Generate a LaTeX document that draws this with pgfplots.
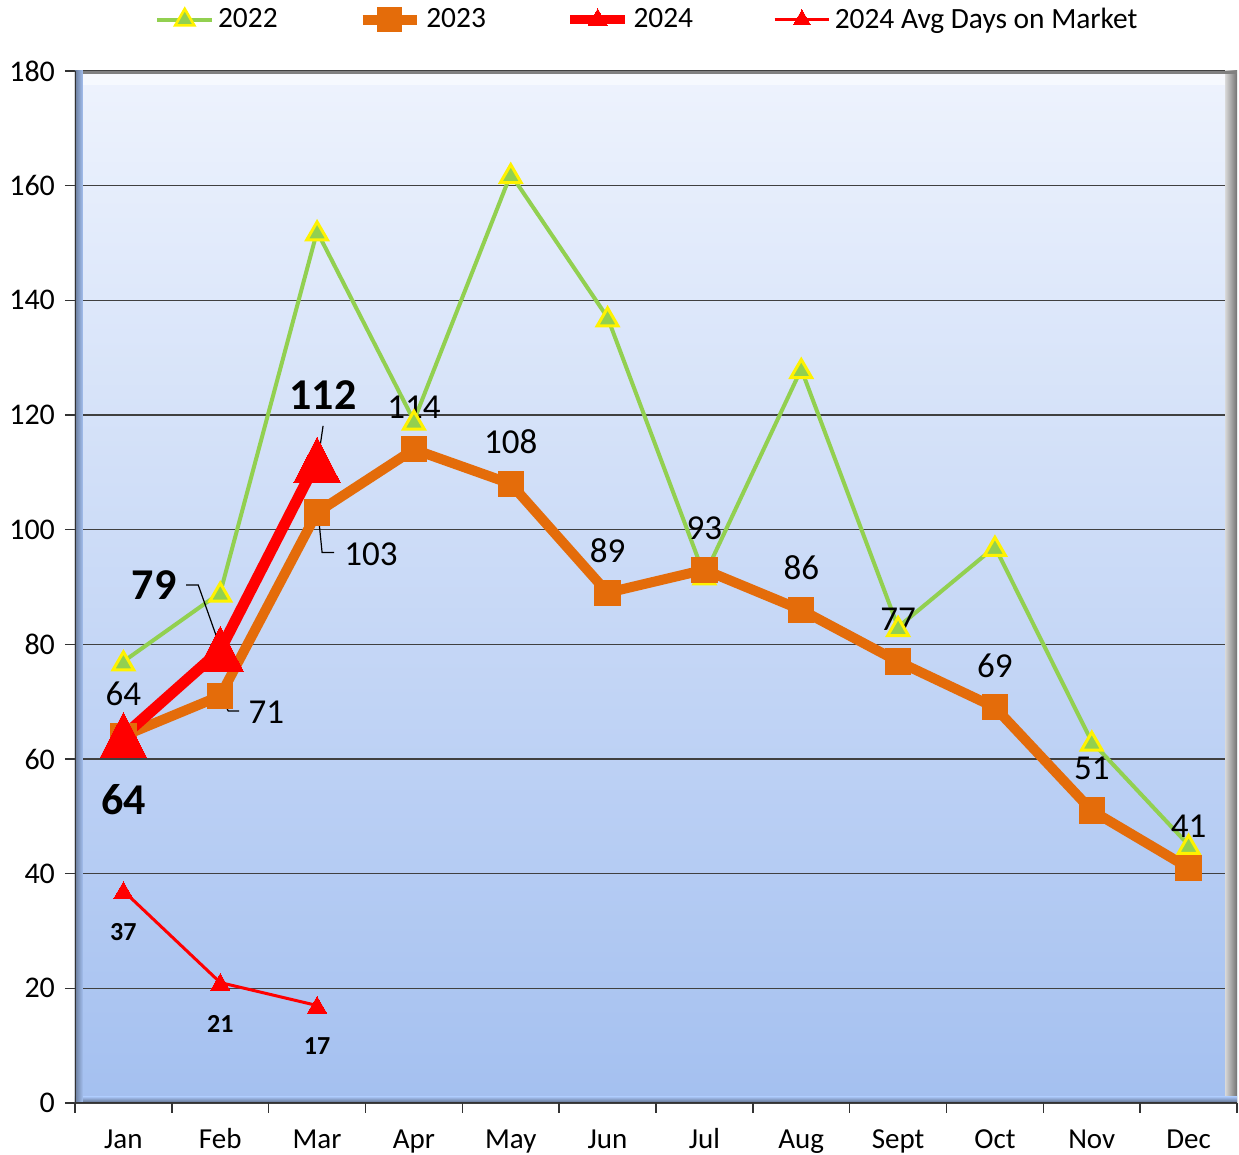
\documentclass[border=0pt]{standalone}
\usepackage{pgfplots}
\pgfplotsset{compat=1.18}
\usepackage{fontspec}
\setmainfont{Carlito}
\usetikzlibrary{plotmarks}
\definecolor{g22}{HTML}{92D050}
\definecolor{o23}{HTML}{E46C0A}
\definecolor{r24}{HTML}{FF0000}
\definecolor{bgtop}{HTML}{EEF3FD}
\definecolor{bgbot}{HTML}{A4C0F0}
\begin{document}
\begin{tikzpicture}
\path[use as bounding box] (-37.5pt,-26pt) rectangle (582pt,551.5pt);
\begin{axis}[
  scale only axis, width=581pt, height=516pt,
  xmin=-0.5, xmax=11.5, ymin=0, ymax=180,
  axis background/.style={top color=bgtop, bottom color=bgbot},
  axis line style={draw=none},
  xtick={-0.5,0.5,...,11.5}, xticklabel=\empty,
  extra x ticks={0,1,2,3,4,5,6,7,8,9,10,11},
  extra x tick labels={Jan,Feb,Mar,Apr,May,Jun,Jul,Aug,Sept,Oct,Nov,Dec},
  extra x tick style={major tick length=0pt, xticklabel style={yshift=-12pt, text height=10.5pt, text depth=0pt, inner sep=0pt, font=\fontsize{14.5}{17}\selectfont}},
  ytick={0,20,...,180},
  xtick pos=bottom, ytick pos=left,
  tick align=outside, major tick length=5pt,
  tick style={black!80, line width=0.7pt},
  ymajorgrids, grid style={draw=black!75, line width=0.6pt},
  yticklabel style={xshift=-1.5pt, font=\fontsize{15}{17}\selectfont},
  /pgf/number format/assume math mode=true,
  legend style={at={(0.4935,1.0495)}, anchor=center, draw=none, fill=none,
    font=\fontsize{14.7}{17}\selectfont, legend columns=4,
    /tikz/every even column/.append style={column sep=38pt}},
  legend image code/.code={\draw[mark repeat=2,mark phase=2,#1] plot coordinates {(0cm,0cm) (0.48cm,0cm) (0.96cm,0cm)};},
]
% 2022
\addplot[g22, line width=2pt, mark=triangle*, mark size=6pt,
  mark options={fill=g22, draw=yellow, line width=1.5pt, yshift=-1.2pt}, forget plot]
  coordinates {(0,77) (1,89) (2,152) (3,119) (4,162) (5,137) (6,92) (7,128) (8,83) (9,97) (10,63) (11,45)};
% 2023
\addplot[o23, line width=5pt, mark=square*, mark size=6.3pt,
  mark options={fill=o23, draw=o23, line width=0.5pt, rounded corners=2pt}, forget plot]
  coordinates {(0,64) (1,71) (2,103) (3,114) (4,108) (5,89) (6,93) (7,86) (8,77) (9,69) (10,51) (11,41)};
% 2024
\addplot[r24, line width=5.5pt, mark=triangle*, mark size=13.5pt,
  mark options={fill=r24, draw=r24, line width=0pt, yscale=1.12, yshift=-3pt}, forget plot]
  coordinates {(0,64) (1,79) (2,112)};
% 2024 avg days
\addplot[r24, line width=1.5pt, mark=triangle*, mark size=5.5pt,
  mark options={fill=r24, draw=r24, line width=0pt, yshift=-1pt}, forget plot]
  coordinates {(0,37) (1,21) (2,17)};

\addlegendimage{g22, line width=2pt, mark=triangle*, mark size=5.5pt, mark options={fill=g22, draw=yellow, line width=1.3pt}}
\addlegendentry{2022}
\addlegendimage{o23, line width=5pt, mark=square*, mark size=6pt, mark options={fill=o23, draw=o23, line width=0.5pt, rounded corners=2pt}}
\addlegendentry{2023}
\addlegendimage{r24, line width=4.5pt, mark=triangle*, mark size=5.5pt, mark options={fill=r24, draw=r24, line width=0pt}}
\addlegendentry{2024}
\addlegendimage{r24, line width=1.5pt, mark=triangle*, mark size=5pt, mark options={fill=r24, draw=r24, line width=0pt}}
\addlegendentry{2024 Avg Days on Market}

% bevel frame
\fill[white, opacity=0.55] ([yshift=-1.5pt]rel axis cs:0,1) rectangle ([xshift=-5pt,yshift=-7pt]rel axis cs:1,1);
\shade[left color=black!15, right color=black!55] ([xshift=-6pt]rel axis cs:1,0) rectangle (rel axis cs:1,1);
\fill[black!50] (rel axis cs:0,1) rectangle ([yshift=-1.5pt]rel axis cs:1,1);
\shade[top color=bgbot, bottom color=black!45!bgbot] (rel axis cs:0,0) rectangle ([yshift=3pt]rel axis cs:1,0);
\shade[left color=black!35!bgbot, right color=bgbot] (rel axis cs:0,0) rectangle ([xshift=4pt]rel axis cs:0,1);
\draw[black!80, line width=0.8pt] (rel axis cs:0,1) -- (rel axis cs:0,0) -- (rel axis cs:1,0);

% 2023 labels
\begin{scope}[every node/.style={font=\fontsize{17.5}{20}\selectfont, inner sep=0pt}]
\node[yshift=21pt] at (axis cs:0,64) {64};
\node[xshift=23pt, yshift=-8pt] at (axis cs:1,71) {71};
\node[xshift=27pt, yshift=-21pt] at (axis cs:2,103) {103};
\node[yshift=21pt] at (axis cs:3,114) {114};
\node[yshift=21pt] at (axis cs:4,108) {108};
\node[yshift=21pt] at (axis cs:5,89) {89};
\node[yshift=21pt] at (axis cs:6,93) {93};
\node[yshift=21pt] at (axis cs:7,86) {86};
\node[yshift=21pt] at (axis cs:8,77) {77};
\node[yshift=21pt] at (axis cs:9,69) {69};
\node[yshift=21pt] at (axis cs:10,51) {51};
\node[yshift=21pt] at (axis cs:11,41) {41};
\end{scope}
\draw[black, line width=0.6pt] ([xshift=0.5pt,yshift=-1pt]axis cs:1,71) -- ([xshift=4pt,yshift=-7.5pt]axis cs:1,71) -- ([xshift=9.5pt,yshift=-7.5pt]axis cs:1,71);
\draw[black, line width=0.6pt] ([xshift=0.5pt]axis cs:2,103) -- ([xshift=2.5pt,yshift=-20pt]axis cs:2,103) -- ([xshift=8.5pt,yshift=-20pt]axis cs:2,103);
% 2024 labels
\begin{scope}[every node/.style={font=\fontsize{22}{26}\bfseries\selectfont, inner sep=0pt}]
\node[yshift=-32pt] at (axis cs:0,64) {64};
\node[xshift=-33pt, yshift=32.5pt] at (axis cs:1,79) {79};
\node[xshift=3pt, yshift=33pt] at (axis cs:2,112) {112};
\end{scope}
\draw[black, line width=0.6pt] ([xshift=0.5pt]axis cs:1,79) -- ([xshift=-11pt,yshift=32.5pt]axis cs:1,79) -- ([xshift=-17pt,yshift=32.5pt]axis cs:1,79);
\draw[black, line width=0.6pt] ([xshift=0.5pt,yshift=0.5pt]axis cs:2,112) -- ([xshift=3pt,yshift=17.5pt]axis cs:2,112);
% avg labels
\begin{scope}[every node/.style={font=\fontsize{13}{15}\bfseries\selectfont, inner sep=0pt}]
\node[yshift=-20.5pt] at (axis cs:0,37) {37};
\node[yshift=-20.5pt] at (axis cs:1,21) {21};
\node[yshift=-20.5pt] at (axis cs:2,17) {17};
\end{scope}
\end{axis}
\end{tikzpicture}
\end{document}
